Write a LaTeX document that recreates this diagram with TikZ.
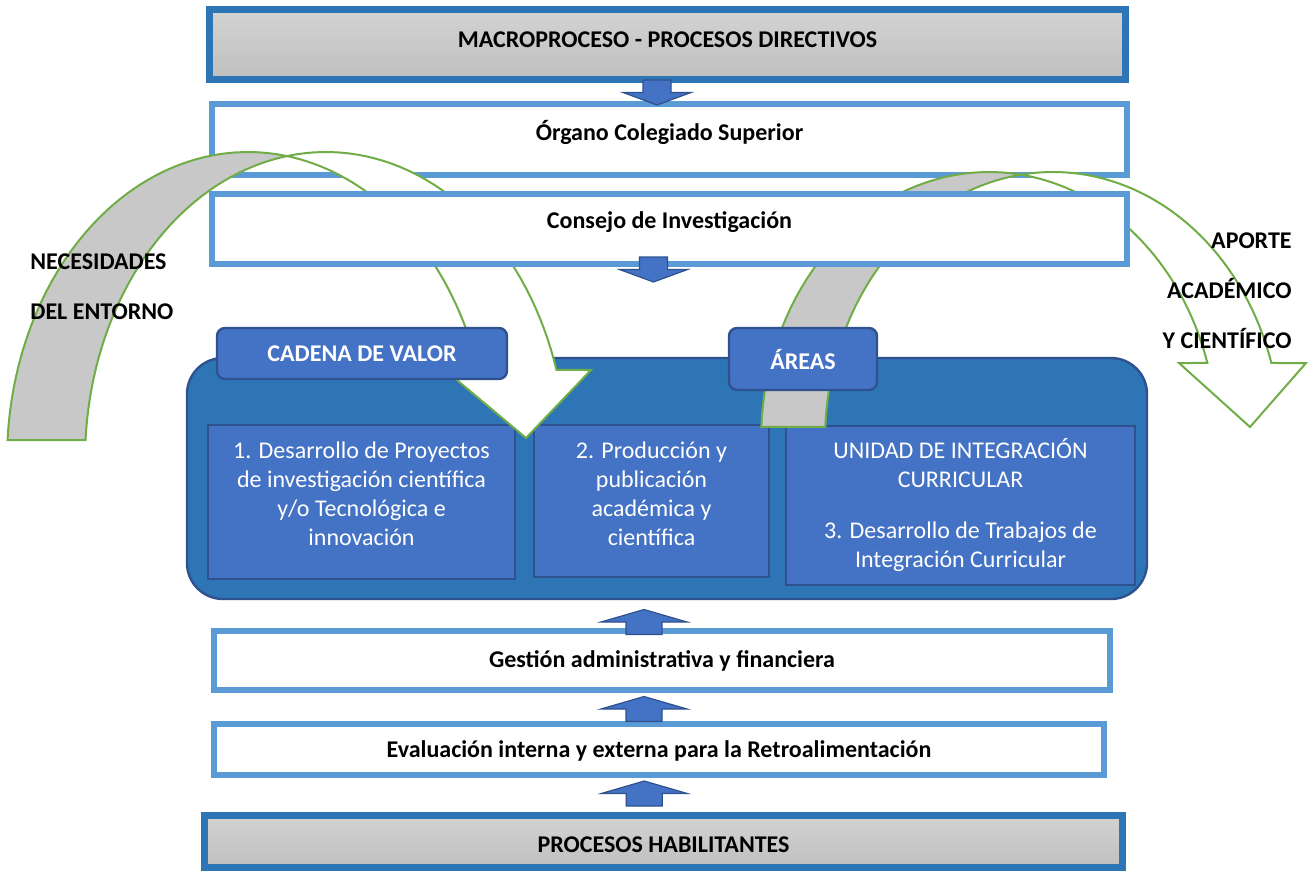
\documentclass[tikz,border=0pt]{standalone}
\usepackage{fontspec}
\setmainfont{Carlito}
\usetikzlibrary{calc}

\definecolor{dirblue}{HTML}{2E75B6}
\definecolor{lvlblue}{HTML}{5B9BD5}
\definecolor{cellblue}{HTML}{4472C4}
\definecolor{edgeblue}{HTML}{2F528F}
\definecolor{bandgreen}{HTML}{70AD47}
\definecolor{bandgray}{HTML}{C8C8C8}
\definecolor{graytop}{HTML}{D3D3D3}
\definecolor{graybot}{HTML}{BFBFBF}

\begin{document}
\begin{tikzpicture}[%
		x=0.5pt, y=-0.5pt,
		font=\fontsize{12}{14.5}\selectfont,
		dirbox/.style={draw=dirblue, line width=3.5pt, top color=graytop, bottom color=graybot, inner sep=0pt},
		lvlbox/.style={draw=lvlblue, line width=3pt, fill=white, inner sep=0pt},
		cellbox/.style={draw=edgeblue, line width=1.2pt, fill=cellblue, inner sep=0pt},
		tabbox/.style={cellbox, rounded corners=4pt, text=white, font=\bfseries\fontsize{12}{14.5}\selectfont},
		titletext/.style={font=\bfseries\fontsize{12}{14.5}\selectfont},
		celltext/.style={text=white, align=center},
		sidetext/.style={font=\bfseries\fontsize{12}{25}\selectfont, inner sep=0pt},
		backface/.style={draw=bandgreen, line width=1pt, fill=bandgray},
		frontface/.style={draw=bandgreen, line width=1pt, fill=white},
		blockarrow/.style={draw=edgeblue, line width=0.6pt, fill=cellblue},
		downarr/.pic={\draw[blockarrow] (-14,-12.5) -- (14,-12.5) -- (14,0) -- (34,0) -- (0,12.5) -- (-34,0) -- (-14,0) -- cycle;},
		uparr/.pic={\draw[blockarrow] (-18,12.5) -- (18,12.5) -- (18,0) -- (43,0) -- (0,-12.5) -- (-43,0) -- (-18,0) -- cycle;}
		]

		\useasboundingbox (0,0) rectangle (1309,872);

		%% Procesos directivos
		\node[dirbox, minimum width=458pt, minimum height=35pt] (macro) at (667.5,44.5) {};
		\node[titletext] (macro-t) at ([yshift=2.25pt]macro.center) {MACROPROCESO - PROCESOS DIRECTIVOS};

		\node[lvlbox, minimum width=457.5pt, minimum height=35.5pt] (organo) at (669.5,139.5) {};
		\node[titletext] (organo-t) at ([yshift=3.75pt]organo.center) {Órgano Colegiado Superior};

		%% Cadena de valor
		\node[draw=edgeblue, line width=1.2pt, fill=dirblue, rounded corners=18pt,
			minimum width=480pt, minimum height=120.5pt, inner sep=0pt] (valor) at (667,478.5) {};

		\node[cellbox, minimum width=153.5pt, minimum height=77pt] (proy) at (361.5,502) {};
		\node[celltext] (proy-t) at ([yshift=4pt]proy.center) {1. Desarrollo de Proyectos\\de investigación científica\\y/o Tecnológica e\\innovación};

		\node[cellbox, minimum width=117.5pt, minimum height=76pt] (prod) at (651.5,501) {};
		\node[celltext] (prod-t) at ([yshift=3.75pt]prod.center) {2. Producción y\\publicación\\académica y\\científica};

		\node[cellbox, minimum width=174.5pt, minimum height=79.5pt] (tic) at (960.5,505.5) {};
		\node[celltext] (tic-t) at (tic.center) {UNIDAD DE INTEGRACIÓN\\CURRICULAR\\[11pt]3. Desarrollo de Trabajos de\\Integración Curricular};

		%% Flechas curvas
		\draw[backface] plot[domain=176.3:80.7, samples=40] ({248+241*cos(\x)},{460-308*sin(\x)})
			-- plot[domain=99.3:176.3, samples=40] ({326+241*cos(\x)},{460-308*sin(\x)}) -- cycle;
		\draw[frontface] plot[domain=80.7:17, samples=40] ({248+241*cos(\x)},{460-308*sin(\x)})
			-- (445,370) -- (526,438) -- (591,370)
			-- plot[domain=17:99.3, samples=40] ({326+241*cos(\x)},{460-308*sin(\x)}) -- cycle;

		\draw[backface] plot[domain=177.2:81.9, samples=40] ({989+228*cos(\x)},{440-268*sin(\x)})
			-- plot[domain=98.1:177.2, samples=40] ({1053+228*cos(\x)},{440-268*sin(\x)}) -- cycle;
		\draw[frontface] plot[domain=81.9:16.7, samples=40] ({989+228*cos(\x)},{440-268*sin(\x)})
			-- (1179,363) -- (1250,427) -- (1306,363)
			-- plot[domain=16.7:98.1, samples=40] ({1053+228*cos(\x)},{440-268*sin(\x)}) -- cycle;

		\node[lvlbox, minimum width=457.5pt, minimum height=35pt] (consejo) at (669.5,229) {};
		\node[titletext] (consejo-t) at ([yshift=3.5pt]consejo.center) {Consejo de Investigación};

		\node[tabbox, minimum width=145pt, minimum height=25.5pt] (cadena) at (362,353.5) {CADENA DE VALOR};
		\node[tabbox, minimum width=74pt, minimum height=31pt] (areas) at (803,359) {ÁREAS};

		\node[sidetext, align=left, anchor=west] (necesidades) at (30,287) {NECESIDADES\\DEL ENTORNO};
		\node[sidetext, align=right, anchor=east] (aporte) at (1292,290.5) {APORTE\\ACADÉMICO\\Y CIENTÍFICO};

		%% Procesos de apoyo
		\node[lvlbox, minimum width=448pt, minimum height=29.5pt] (gestion) at (662,660.5) {};
		\node[titletext] (gestion-t) at (gestion.center) {Gestión administrativa y financiera};

		\node[lvlbox, minimum width=445pt, minimum height=25.5pt] (evaluacion) at (659,749.5) {};
		\node[titletext] (evaluacion-t) at ([yshift=-0.75pt]evaluacion.center) {Evaluación interna y externa para la Retroalimentación};

		\node[dirbox, minimum width=459pt, minimum height=26pt] (habilitantes) at (663.5,841.5) {};
		\node[titletext] (habilitantes-t) at ([yshift=-1.75pt]habilitantes.center) {PROCESOS HABILITANTES};

		%% Flechas de bloque
		\pic at ($(macro.south)!.5!(organo.north)+(-11.5,0.5)$) {downarr};
		\pic at ($(consejo.south)+(-16,2.5)$) {downarr};
		\pic at ($(valor.south)!.5!(gestion.north)+(-20.5,7.9)$) {uparr};
		\pic at ($(gestion.south)!.5!(evaluacion.north)+(-16.5,2)$) {uparr};
		\pic at ($(evaluacion.south)!.5!(habilitantes.north)+(-17,-1.5)$) {uparr};

	\end{tikzpicture}
\end{document}
